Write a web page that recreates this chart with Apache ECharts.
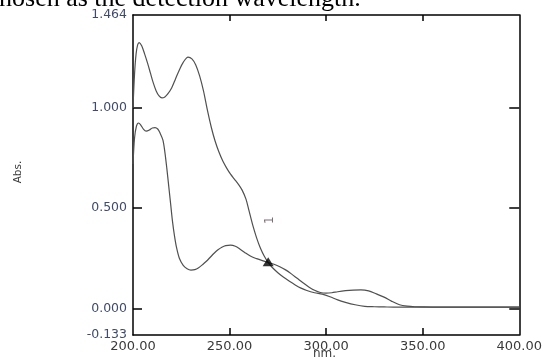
<!DOCTYPE html>
<html>
<head>
<meta charset="utf-8">
<script src="https://cdn.jsdelivr.net/npm/echarts@6/dist/echarts.min.js"></script>
<style>html,body{margin:0;padding:0;background:#fff}#c{width:545px;height:362px}</style>
</head>
<body>
<div id="c"></div>
<script>
// Upper spectrum (peaks ~203 nm, ~228 nm, shoulder ~250 nm)
const wlA  = [200,200.8,201.6,202.4,203.2,204.5,206,207.5,209,210.5,212,213.5,215,216.5,218,220,222,224,226,228.5,230.5,232.5,234.5,236.5,238.5,240.5,242.5,244.5,246.5,248.5,250.5,252.5,254.5,256.5,258.5,260,262,264,266,268,270,272,275,278,281,284,287,290,294,298,302,306,310,315,320,325,330,335,340,345,350,360,370,380,390,400];
const absA = [1.00,1.17,1.27,1.315,1.326,1.31,1.27,1.225,1.175,1.125,1.085,1.06,1.05,1.055,1.07,1.10,1.145,1.19,1.228,1.254,1.245,1.215,1.16,1.085,0.99,0.905,0.835,0.78,0.735,0.70,0.67,0.645,0.62,0.59,0.545,0.49,0.415,0.352,0.30,0.26,0.229,0.205,0.178,0.155,0.135,0.117,0.101,0.089,0.078,0.071,0.058,0.042,0.030,0.018,0.010,0.008,0.007,0.006,0.006,0.006,0.006,0.006,0.006,0.006,0.006,0.006];
// Lower spectrum (peaks ~203/211 nm, ~251 nm, ~318 nm)
const wlB  = [200,200.8,201.8,202.9,204,205.5,206.8,208.5,210,211.4,212.8,214,215.5,216.5,217.5,218.5,219.5,220.5,221.5,222.5,224,226,228,230,232,234,236,238,240,242,244,246,248,250.5,253,255.5,258,261,264,267,270,273,276,279,282,285,288,291,294,297,300,303,306,310,314,318,322,326,330,334,338,342,346,350,360,370,380,390,400];
const absB = [0.72,0.85,0.91,0.925,0.915,0.893,0.884,0.89,0.90,0.902,0.895,0.875,0.84,0.78,0.70,0.61,0.52,0.43,0.36,0.305,0.25,0.215,0.198,0.191,0.193,0.203,0.218,0.235,0.255,0.275,0.292,0.305,0.313,0.316,0.31,0.295,0.278,0.26,0.248,0.238,0.229,0.22,0.208,0.192,0.172,0.15,0.128,0.107,0.09,0.079,0.076,0.078,0.083,0.088,0.091,0.092,0.087,0.072,0.056,0.035,0.018,0.011,0.008,0.007,0.006,0.006,0.006,0.006,0.006];
// Marker (isosbestic point) and curve label
const markerPoint = [270, 0.232];
const curveLabelPoint = [271, 0.44];
const curveLabel = '1';
const xTickLabels = [200, 250, 300, 350, 400];
const xTicks = [250, 300, 350];
const yTickLabels = [-0.133, 0, 0.5, 1.0, 1.464];
const yTicks = [0, 0.5, 1.0];
const xMin = 200, xMax = 400, yMin = -0.133, yMax = 1.464;
const xName = 'nm.', yName = 'Abs.';
const topText = 'chosen as the detection wavelength.';

const pairs = (xs, ys) => xs.map((x, i) => [x, ys[i]]);
const lineColor = '#505050';
const labelFont = 'DejaVu Sans';

const chart = echarts.init(document.getElementById('c'), null, {renderer: 'canvas'});
const axisLine = {show: true, onZero: false, lineStyle: {color: '#000', width: 1.5}};
chart.setOption({
  animation: false,
  backgroundColor: '#fff',
  grid: {left: 133, right: 24, top: 15, bottom: 27},
  xAxis: [
    {type: 'value', min: xMin, max: xMax, position: 'bottom',
     axisLine: axisLine, splitLine: {show: false},
     axisTick: {show: true, inside: true, length: 7, customValues: xTicks, lineStyle: {color: '#000', width: 1.5}},
     axisLabel: {customValues: xTickLabels, formatter: v => v.toFixed(2), margin: 5, color: '#3a3a3a', fontFamily: labelFont, fontSize: 13}},
    {type: 'value', min: xMin, max: xMax, position: 'top',
     axisLine: axisLine, splitLine: {show: false},
     axisTick: {show: true, inside: true, length: 6, customValues: xTicks, lineStyle: {color: '#000', width: 1.5}},
     axisLabel: {show: false}}
  ],
  yAxis: [
    {type: 'value', min: yMin, max: yMax, position: 'left',
     axisLine: axisLine, splitLine: {show: false},
     axisTick: {show: true, inside: true, length: 9, customValues: yTicks, lineStyle: {color: '#000', width: 1.5}},
     axisLabel: {customValues: yTickLabels, formatter: v => v.toFixed(3), margin: 6, color: '#3f4a6e', fontFamily: labelFont, fontSize: 12.5}},
    {type: 'value', min: yMin, max: yMax, position: 'right',
     axisLine: axisLine, splitLine: {show: false},
     axisTick: {show: true, inside: true, length: 10, customValues: yTicks, lineStyle: {color: '#000', width: 1.5}},
     axisLabel: {show: false}}
  ],
  series: [
    {type: 'line', data: pairs(wlA, absA), smooth: 0.3, showSymbol: false,
     lineStyle: {color: lineColor, width: 1.2}, z: 3},
    {type: 'line', data: pairs(wlB, absB), smooth: 0.3, showSymbol: false,
     lineStyle: {color: lineColor, width: 1.2}, z: 3},
    {type: 'scatter', data: [markerPoint], symbol: 'triangle', symbolSize: [11, 9],
     itemStyle: {color: '#000'}, z: 5},
    {type: 'scatter', data: [curveLabelPoint], symbolSize: 0,
     label: {show: true, formatter: curveLabel, rotate: 90, position: 'inside', color: '#5a4a55', fontFamily: labelFont, fontSize: 12}, z: 5}
  ],
  graphic: [
    {type: 'text', left: 313, top: 348, style: {text: xName, fill: '#3a3a3a', font: '12px "DejaVu Sans"'}},
    {type: 'text', x: 18, y: 172, rotation: Math.PI / 2,
     style: {text: yName, fill: '#3a3a3a', font: '10.5px "DejaVu Sans"', align: 'center', verticalAlign: 'middle'}},
    {type: 'text', x: -12.5, y: 12.5,
     style: {text: topText, fill: '#000', font: '26px "Liberation Serif"', align: 'left', verticalAlign: 'bottom'}}
  ]
});
</script>
</body>
</html>
